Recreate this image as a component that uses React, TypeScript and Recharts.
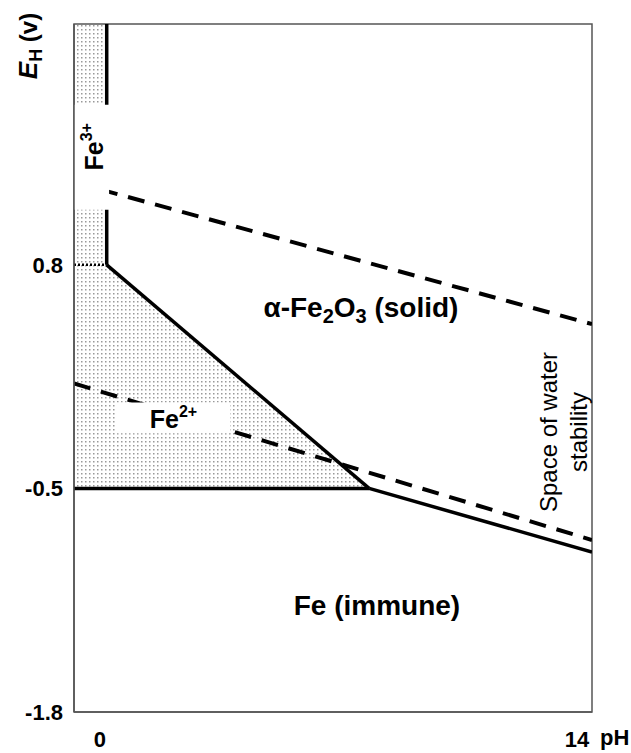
import { Area, ComposedChart, Line, ReferenceArea, ReferenceDot, XAxis, YAxis } from "recharts"

const FONT = "'Liberation Sans', Arial, Helvetica, sans-serif"
const FRAME = "#555"

const PH_DOMAIN = [-0.76, 14.44]
const E_DOMAIN = [-1.8, 2.2]
const PH_TICKS = [0, 14]
const E_TICKS = [-1.8, -0.5, 0.8]

// phase boundaries, (pH, E in V)
const fe3Boundary = [{ ph: 0.2, e: 2.2 }, { ph: 0.2, e: 0.8 }]
const fe3Level = [{ ph: -0.76, e: 0.8 }, { ph: 0.2, e: 0.8 }]
const fe2OxideBoundary = [{ ph: 0.2, e: 0.8 }, { ph: 7.9, e: -0.5 }]
const feFe2Boundary = [{ ph: -0.76, e: -0.5 }, { ph: 7.9, e: -0.5 }]
const feOxideBoundary = [{ ph: 7.9, e: -0.5 }, { ph: 14.44, e: -0.87 }]

// water stability limits
const oxygenLine = [{ ph: -0.76, e: 1.28 }, { ph: 14.44, e: 0.455 }]
const hydrogenLine = [{ ph: -0.76, e: 0.11 }, { ph: 14.44, e: -0.8 }]

// dissolved iron field (low, high)
const ionRegion = [
  { ph: -0.76, range: [-0.5, 2.2] },
  { ph: 0.2, range: [-0.5, 2.2] },
  { ph: 0.2, range: [-0.5, 0.8] },
  { ph: 7.9, range: [-0.5, -0.5] },
]

// label spots
const fe3Box = { x1: -0.76, x2: 0.27, y1: 1.12, y2: 1.73 }
const fe2Box = { x1: 0.5, x2: 3.82, y1: -0.18, y2: 0.0 }
const oxideSpot = { ph: 7.66, e: 0.494 }
const metalSpot = { ph: 8.13, e: -1.236 }
const waterSpot = { ph: 13.85, e: -0.172 }

const bold = { fontFamily: FONT, fontWeight: "bold", fill: "#000" } as const

function YTick({ x, y, payload }: any) {
  return (
    <text x={x - 9} y={y + 8} textAnchor="end" fontSize={22} {...bold}>
      {String(payload.value)}
    </text>
  )
}

function XTick({ x, y, payload }: any) {
  return (
    <text x={x} y={y + 33} textAnchor="middle" fontSize={22} {...bold}>
      {String(payload.value)}
    </text>
  )
}

function PhLabel({ viewBox }: any) {
  return (
    <text x={viewBox.x + viewBox.width + 8} y={viewBox.y + 33} fontSize={22} {...bold}>
      pH
    </text>
  )
}

function EhLabel({ viewBox }: any) {
  return (
    <text transform={`translate(${viewBox.x + 37},${viewBox.y + 22}) rotate(-90)`} textAnchor="middle" fontSize={26} {...bold}>
      <tspan fontStyle="italic">E</tspan>
      <tspan fontSize={18} dy={5}>H</tspan>
      <tspan fontSize={24} dy={-5}>{"\u00a0(v)"}</tspan>
    </text>
  )
}

function Fe3Label({ viewBox }: any) {
  const cx = viewBox.x + viewBox.width / 2
  const cy = viewBox.y + viewBox.height * 0.4
  return (
    <text transform={`translate(${cx + 11},${cy}) rotate(-90)`} textAnchor="middle" fontSize={25} {...bold}>
      Fe<tspan fontSize={16} dy={-11}>3+</tspan>
    </text>
  )
}

function Fe2Label({ viewBox }: any) {
  const cx = viewBox.x + viewBox.width / 2
  const cy = viewBox.y + viewBox.height / 2
  return (
    <text x={cx} y={cy + 10} textAnchor="middle" fontSize={25} {...bold}>
      Fe<tspan fontSize={16} dy={-11}>2+</tspan>
    </text>
  )
}

function OxideLabel({ viewBox }: any) {
  const cx = viewBox.x + viewBox.width / 2
  const cy = viewBox.y + viewBox.height / 2
  return (
    <text x={cx} y={cy} textAnchor="middle" fontSize={28} {...bold}>
      {"\u03b1-Fe"}
      <tspan fontSize={20} dy={6}>2</tspan>
      <tspan fontSize={28} dy={-6}>O</tspan>
      <tspan fontSize={20} dy={6}>3</tspan>
      <tspan fontSize={28} dy={-6}>{"\u00a0(solid)"}</tspan>
    </text>
  )
}

function MetalLabel({ viewBox }: any) {
  const cx = viewBox.x + viewBox.width / 2
  const cy = viewBox.y + viewBox.height / 2
  return (
    <text x={cx} y={cy} textAnchor="middle" fontSize={28} {...bold}>
      Fe (immune)
    </text>
  )
}

function WaterLabel({ viewBox }: any) {
  const cx = viewBox.x + viewBox.width / 2
  const cy = viewBox.y + viewBox.height / 2
  return (
    <g transform={`translate(${cx},${cy}) rotate(-90)`} fontFamily={FONT} fontSize={24} fill="#000">
      <text x={0} y={-15} textAnchor="middle">Space of water</text>
      <text x={0} y={15} textAnchor="middle">stability</text>
    </g>
  )
}

export default function App() {
  const solid = { stroke: "#000", strokeWidth: 3.5, dot: false, activeDot: false, isAnimationActive: false, type: "linear" } as const
  const dashed = { ...solid, strokeWidth: 4, strokeDasharray: "17 11" }

  return (
    <div style={{ position: "absolute", left: 0, top: 0, width: 631, height: 753, background: "#fff" }}>
      <ComposedChart width={631} height={753} margin={{ top: 24, right: 39, left: 0, bottom: 0 }}>
        <defs>
          <pattern id="stipple" width="4" height="4" patternUnits="userSpaceOnUse">
            <rect width="4" height="4" fill="#fff" />
            <rect x="1" y="1" width="1.5" height="1.5" fill="#999" />
          </pattern>
        </defs>
        <XAxis
          dataKey="ph"
          type="number"
          domain={PH_DOMAIN}
          ticks={PH_TICKS}
          allowDataOverflow
          height={41}
          tickSize={0}
          tickLine={false}
          tick={<XTick />}
          axisLine={{ stroke: FRAME, strokeWidth: 1.5 }}
          label={{ content: <PhLabel /> }}
        />
        <YAxis
          type="number"
          domain={E_DOMAIN}
          ticks={E_TICKS}
          allowDataOverflow
          width={74}
          tickSize={0}
          tickLine={false}
          tick={<YTick />}
          axisLine={{ stroke: FRAME, strokeWidth: 1.5 }}
          label={{ content: <EhLabel /> }}
        />

        <Area data={ionRegion} dataKey="range" type="linear" fill="url(#stipple)" fillOpacity={1} stroke="none" isAnimationActive={false} />

        <ReferenceArea
          x1={PH_DOMAIN[0]}
          x2={PH_DOMAIN[1]}
          y1={E_DOMAIN[0]}
          y2={E_DOMAIN[1]}
          fill="none"
          stroke={FRAME}
          strokeWidth={1.5}
          ifOverflow="visible"
        />

        <Line data={fe3Level} dataKey="e" {...solid} strokeWidth={2.5} strokeDasharray="2 2" />
        <Line data={oxygenLine} dataKey="e" {...dashed} />
        <Line data={hydrogenLine} dataKey="e" {...dashed} />
        <Line data={fe3Boundary} dataKey="e" {...solid} />
        <Line data={fe2OxideBoundary} dataKey="e" {...solid} />
        <Line data={feFe2Boundary} dataKey="e" {...solid} />
        <Line data={feOxideBoundary} dataKey="e" {...solid} />

        <ReferenceArea {...fe3Box} fill="#fff" fillOpacity={1} stroke="none" zIndex={450} label={{ content: <Fe3Label /> }} />
        <ReferenceArea {...fe2Box} fill="#fff" fillOpacity={1} stroke="none" zIndex={450} label={{ content: <Fe2Label /> }} />

        <ReferenceDot x={oxideSpot.ph} y={oxideSpot.e} r={0} stroke="none" label={{ content: <OxideLabel /> }} />
        <ReferenceDot x={metalSpot.ph} y={metalSpot.e} r={0} stroke="none" label={{ content: <MetalLabel /> }} />
        <ReferenceDot x={waterSpot.ph} y={waterSpot.e} r={0} stroke="none" label={{ content: <WaterLabel /> }} />
      </ComposedChart>
    </div>
  )
}
